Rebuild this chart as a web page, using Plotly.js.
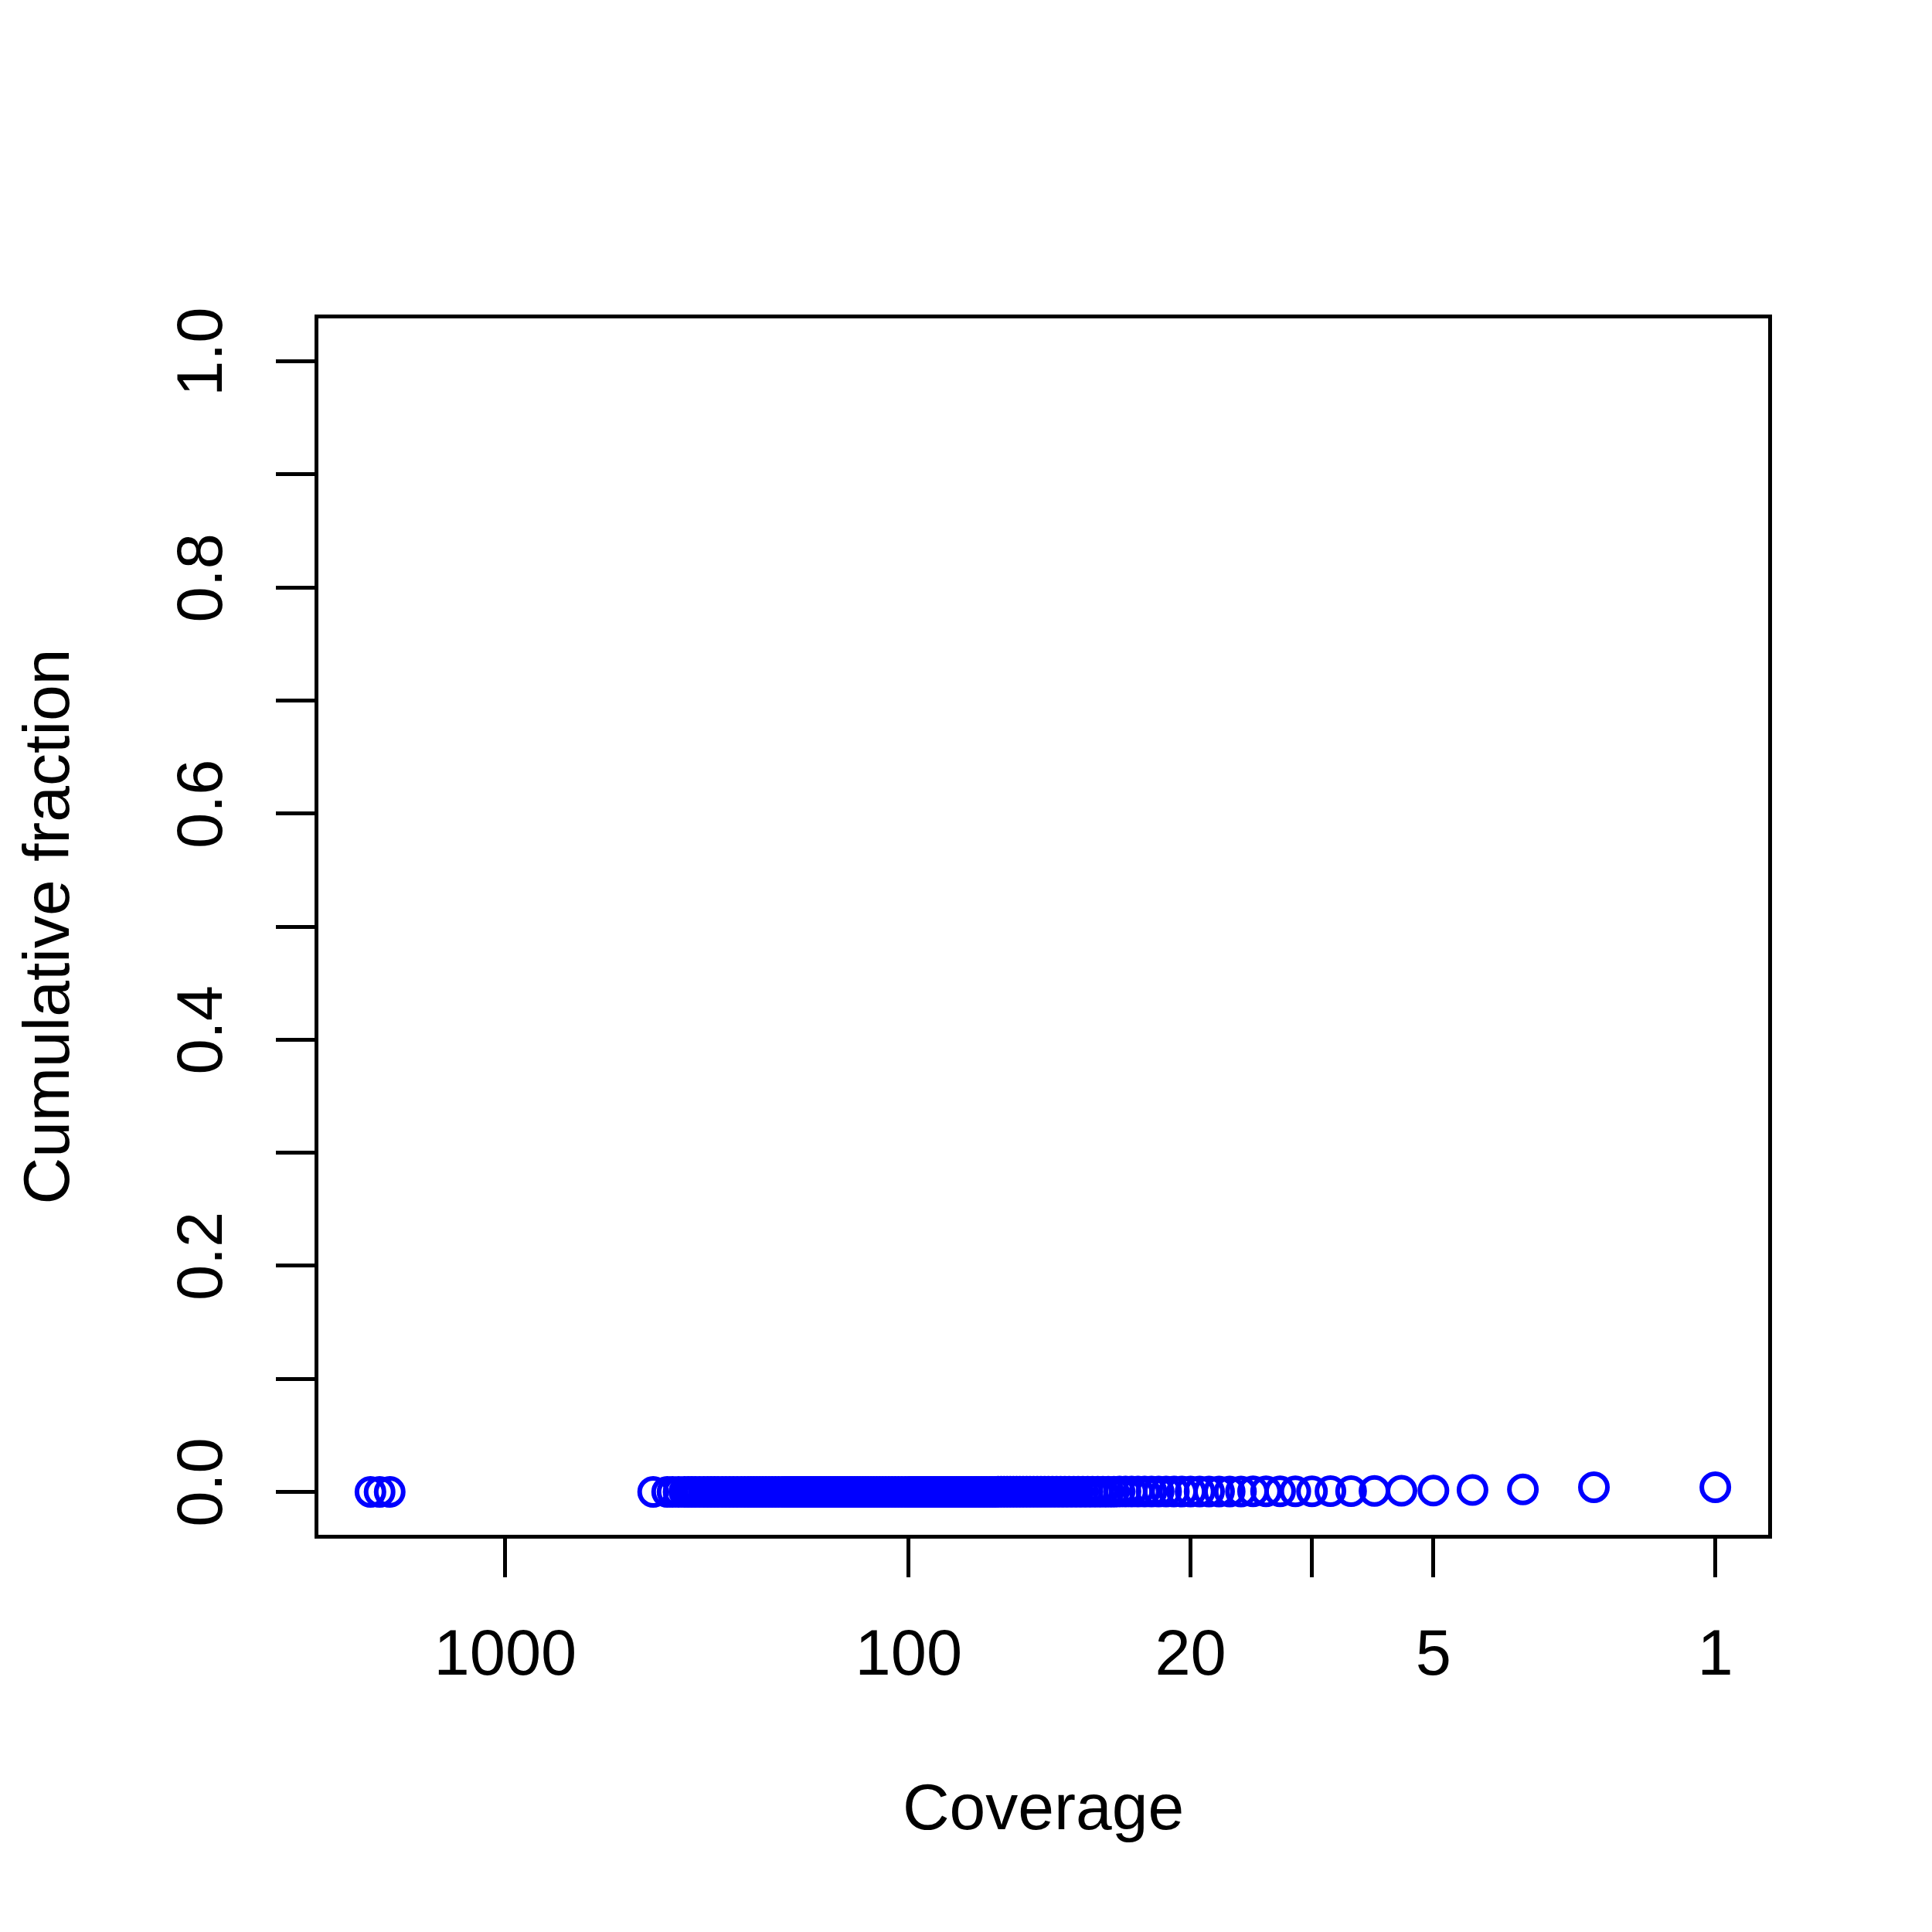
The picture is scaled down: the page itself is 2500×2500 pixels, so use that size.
<!DOCTYPE html>
<html><head><meta charset="utf-8">
<script src="https://cdn.plot.ly/plotly-3.0.1.min.js"></script>
<style>html,body{margin:0;padding:0;background:#fff}#chart{width:2500px;height:2500px}</style>
</head><body><div id="chart"></div>
<script>
// Coverage values (x): integers 1..100 all present,
// thinner set above, and three isolated high-coverage points.
const coverageLow = [1,2,3,4,5,6,7,8,9,10,11,12,13,14,15,16,17,18,19,20,
  21,22,23,24,25,26,27,28,29,30,31,32,33,34,35,36,37,38,39,40,
  41,42,43,44,45,46,47,48,49,50,51,52,53,54,55,56,57,58,59,60,
  61,62,63,64,65,66,67,68,69,70,71,72,73,74,75,76,77,78,79,80,
  81,82,83,84,85,86,87,88,89,90,91,92,93,94,95,96,97,98,99,100];
const fractionLow = [0.0041,0.0040,0.0021,0.0017,0.0012,0.0010,0.0008,0.0007,0.0006,0.0005,
  0.0005,0.0004,0.0004,0.0004,0.0003,0.0003,0.0003,0.0003,0.0002,0.0002,
  0.0002,0.0002,0.0002,0.0002,0.0002,0.0002,0.0002,0.0002,0.0002,0.0002,
  0.0001,0.0001,0.0001,0.0001,0.0001,0.0001,0.0001,0.0001,0.0001,0.0001,
  0.0001,0.0001,0.0001,0.0001,0.0001,0.0001,0.0001,0.0001,0.0001,0.0001,
  0.0001,0.0001,0.0001,0.0001,0.0001,0.0001,0.0001,0.0001,0.0001,0.0001,
  0,0,0,0,0,0,0,0,0,0,
  0,0,0,0,0,0,0,0,0,0,
  0,0,0,0,0,0,0,0,0,0,
  0,0,0,0,0,0,0,0,0,0];
const coverageMid = [102,104,106,108,110,112,114,116,118,120,122,124,126,128,130,132,134,136,138,140,
  142,144,146,148,150,152,154,156,158,160,162,164,166,168,170,172,174,176,178,180,
  182,184,186,188,190,192,194,196,198,200];
const fractionMid = [0,0,0,0,0,0,0,0,0,0,0,0,0,0,0,0,0,0,0,0,
  0,0,0,0,0,0,0,0,0,0,0,0,0,0,0,0,0,0,0,0,
  0,0,0,0,0,0,0,0,0,0];
const coverageHigh = [203,206,210,214,218,222,226,230,234,238,242,246,250,255,260,266,272,278,284,290,
  297,303,309,315,322,330,338,345,352,360,372,385,397,430,1935,2050,2160];
const fractionHigh = [0,0,0,0,0,0,0,0,0,0,0,0,0,0,0,0,0,0,0,0,
  0,0,0,0,0,0,0,0,0,0,0,0,0,0,0,0,0];

const xTickValues = [1000, 100, 20, 10, 5, 1];
const xTickLabels = ["1000", "100", "20", "", "5", "1"];
const yTickValues = [0, 0.1, 0.2, 0.3, 0.4, 0.5, 0.6, 0.7, 0.8, 0.9, 1.0];
const yTickLabels = ["0.0", "", "0.2", "", "0.4", "", "0.6", "", "0.8", "", "1.0"];

const coverage = coverageLow.concat(coverageMid, coverageHigh);
const cumFraction = fractionLow.concat(fractionMid, fractionHigh);

const FONT = '"Liberation Sans", Arial, Helvetica, sans-serif';

const trace = {
  x: coverage,
  y: cumFraction,
  type: 'scatter',
  mode: 'markers',
  marker: {symbol: 'circle-open', size: 35, color: '#0000FF', line: {width: 6, color: '#0000FF'}},
  hoverinfo: 'skip'
};

const axisCommon = {
  showgrid: false, zeroline: false,
  showline: true, linewidth: 5, linecolor: '#000', mirror: true,
  ticks: 'outside', ticklen: 50, tickwidth: 5, tickcolor: '#000',
  tickfont: {family: FONT, size: 83, color: '#000'},
  automargin: false
};

const layout = {
  width: 2500, height: 2500,
  paper_bgcolor: '#fff', plot_bgcolor: '#fff',
  margin: {l: 412, r: 212, t: 412, b: 514, pad: 0},
  showlegend: false,
  font: {family: FONT, color: '#000'},
  xaxis: Object.assign({}, axisCommon, {
    type: 'log',
    range: [3.4635, -0.1310],
    tickmode: 'array', tickvals: xTickValues, ticktext: xTickLabels,
    ticklabelstandoff: 26,
    title: {text: 'Coverage', font: {family: FONT, size: 84, color: '#000'}, standoff: 126}
  }),
  yaxis: Object.assign({}, axisCommon, {
    range: [-0.038, 1.038],
    tickmode: 'array', tickvals: yTickValues, ticktext: yTickLabels,
    tickangle: -90,
    ticklabelstandoff: 37,
    title: {text: 'Cumulative fraction', font: {family: FONT, size: 84, color: '#000'}, standoff: 96}
  })
};

Plotly.newPlot('chart', [trace], layout, {staticPlot: true, displayModeBar: false});
</script>
</body></html>
